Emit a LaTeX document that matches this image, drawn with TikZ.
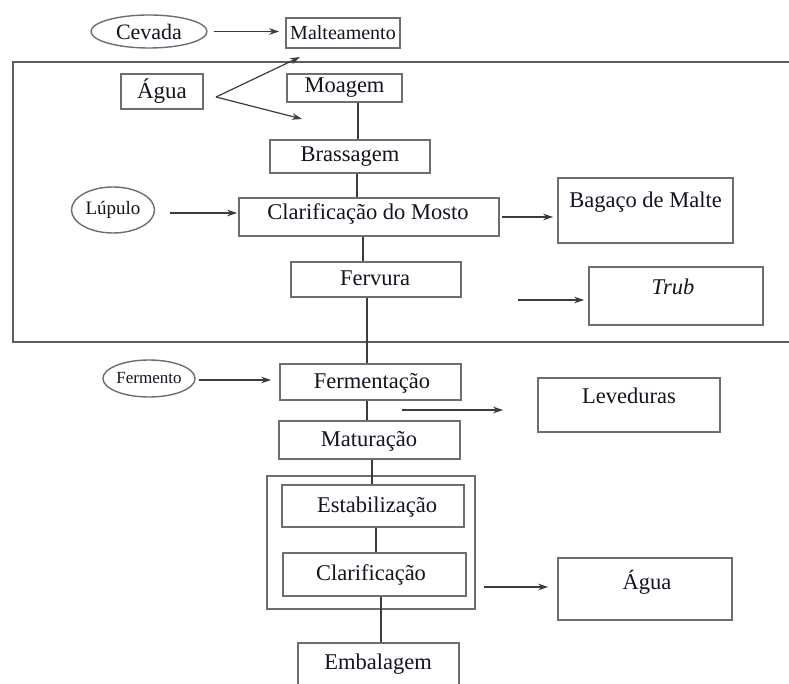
\documentclass[tikz,border=0pt]{standalone}
\usepackage{fontspec}
\setmainfont{Liberation Serif}
\usetikzlibrary{arrows.meta,shapes.geometric}
\definecolor{edge}{HTML}{6E6E6E}
\definecolor{wirec}{HTML}{3C3C3C}
\definecolor{ink}{HTML}{141420}

\tikzset{
  box/.style={draw=edge, line width=1.6pt, rectangle, inner sep=0pt, text=ink,
              font=\fontsize{22.5}{24}\selectfont},
  oval/.style={draw=edge, line width=1.4pt, ellipse, inner sep=0pt, text=ink},
  lbl/.style={text=ink, inner sep=0pt, anchor=base, font=\fontsize{22.5}{24}\selectfont},
  wire/.style={draw=wirec, line width=1.2pt},
  feed/.style={wire, -{Stealth[length=10pt,width=6.5pt]}},
}

\begin{document}
\begin{tikzpicture}[x=1pt,y=-1pt]
\useasboundingbox (0,0) rectangle (789,684);
\clip (0,0) rectangle (789,684);
\fill[white] (0,0) rectangle (789,684);

% hot side enclosure
\draw[draw=edge!85!black, line width=1.7pt] (13,62) rectangle (796,342);
% cold side finishing group
\draw[draw=edge, line width=1.6pt] (267,476) rectangle (475,609);

% raw materials
\node[oval, minimum width=116pt, minimum height=33pt, font=\fontsize{22}{24}\selectfont] (cevada) at (149,31.5) {Cevada};
\node[oval, minimum width=83pt, minimum height=46pt, font=\fontsize{19}{21}\selectfont] (lupulo) at (113,210) {Lúpulo};
\node[oval, minimum width=92pt, minimum height=37pt, font=\fontsize{17}{19}\selectfont] (fermento) at (149,378.5) {Fermento};
\node[box, minimum width=82pt, minimum height=35pt, font=\fontsize{23}{25}\selectfont] (agua1) at (162,91.5) {Água};

% process steps
\node[box, minimum width=114pt, minimum height=30pt, font=\fontsize{20}{22}\selectfont] (malt) at (343,33) {Malteamento};
\node[box, minimum width=115pt, minimum height=28pt] (moag) at (344.5,88) {Moagem};
\node[box, minimum width=160pt, minimum height=33pt] (brass) at (350,156.5) {Brassagem};
\node[box, minimum width=260pt, minimum height=38pt] (clarm) at (369,217) {};
\node[lbl] at (368,220) {Clarificação do Mosto};
\node[box, minimum width=170pt, minimum height=35pt] (ferv) at (376,279.5) {};
\node[lbl] at (375,286) {Fervura};
\node[box, minimum width=181pt, minimum height=36pt] (ferm) at (370.5,382) {};
\node[lbl] at (372,388) {Fermentação};
\node[box, minimum width=181pt, minimum height=38pt] (matur) at (369.5,440) {};
\node[lbl] at (369,446) {Maturação};
\node[box, minimum width=182pt, minimum height=42pt] (estab) at (373,506) {};
\node[lbl] at (377,512) {Estabilização};
\node[box, minimum width=183pt, minimum height=43pt] (clarif) at (374.5,574.5) {};
\node[lbl] at (371,580) {Clarificação};
\node[box, minimum width=161pt, minimum height=67pt] (emb) at (378.5,676.5) {};
\node[lbl] at (378,669) {Embalagem};

% by-products
\node[box, minimum width=175pt, minimum height=65pt] (bagaco) at (645.5,210.5) {};
\node[lbl] at (645.5,208) {Bagaço de Malte};
\node[box, minimum width=174pt, minimum height=58pt] (trub) at (676,296) {};
\node[lbl] at (673,295) {\itshape Trub};
\node[box, minimum width=182pt, minimum height=54pt] (lev) at (629,405) {};
\node[lbl] at (629,403) {Leveduras};
\node[box, minimum width=174pt, minimum height=62pt] (agua2) at (645,589) {};
\node[lbl] at (647,589) {Água};

% free arrow ends
\coordinate (aguaout) at (216,97);
\coordinate (maltin) at (300,57);
\coordinate (moagin) at (302,119);
\coordinate (trubout) at (518,300);
\coordinate (levout) at (402,410);
\coordinate (aguaout2) at (484,587);

% main line
\draw[wire] ([xshift=13.5pt]moag.south) -- ([xshift=8pt]brass.north);
\draw[wire] ([xshift=7pt]brass.south) -- ([xshift=-12pt]clarm.north);
\draw[wire] ([xshift=-6pt]clarm.south) -- ([xshift=-13pt]ferv.north);
\draw[wire] ([xshift=-9pt]ferv.south) -- ([xshift=-3.5pt]ferm.north);
\draw[wire] ([xshift=-3.5pt]ferm.south) -- ([xshift=-2.5pt]matur.north);
\draw[wire] ([xshift=2.5pt]matur.south) -- ([xshift=-1pt]estab.north);
\draw[wire] ([xshift=3pt]estab.south) -- ([xshift=1.5pt]clarif.north);
\draw[wire] ([xshift=6.5pt]clarif.south) -- ([xshift=2.5pt]emb.north);

% inputs
\draw[feed, shorten <=6pt, shorten >=6pt] (cevada.east) -- (cevada.east -| malt.west);
\draw[feed] (aguaout) -- (maltin);
\draw[feed] (aguaout) -- (moagin);
\draw[feed, shorten <=15pt, shorten >=1pt] ([yshift=-3pt]lupulo.east) -- ([yshift=-3pt]lupulo.east -| clarm.west);
\draw[feed, shorten <=3pt, shorten >=8pt] ([yshift=-1.5pt]fermento.east) -- ([yshift=-1.5pt]fermento.east -| ferm.west);

% outputs
\draw[feed, shorten <=2pt, shorten >=4pt] (clarm.east) -- (clarm.east -| bagaco.west);
\draw[feed, shorten >=4pt] (trubout) -- (trubout -| trub.west);
\draw[feed, shorten >=34pt] (levout) -- (levout -| lev.west);
\draw[feed, shorten >=9pt] (aguaout2) -- (aguaout2 -| agua2.west);
\end{tikzpicture}
\end{document}
